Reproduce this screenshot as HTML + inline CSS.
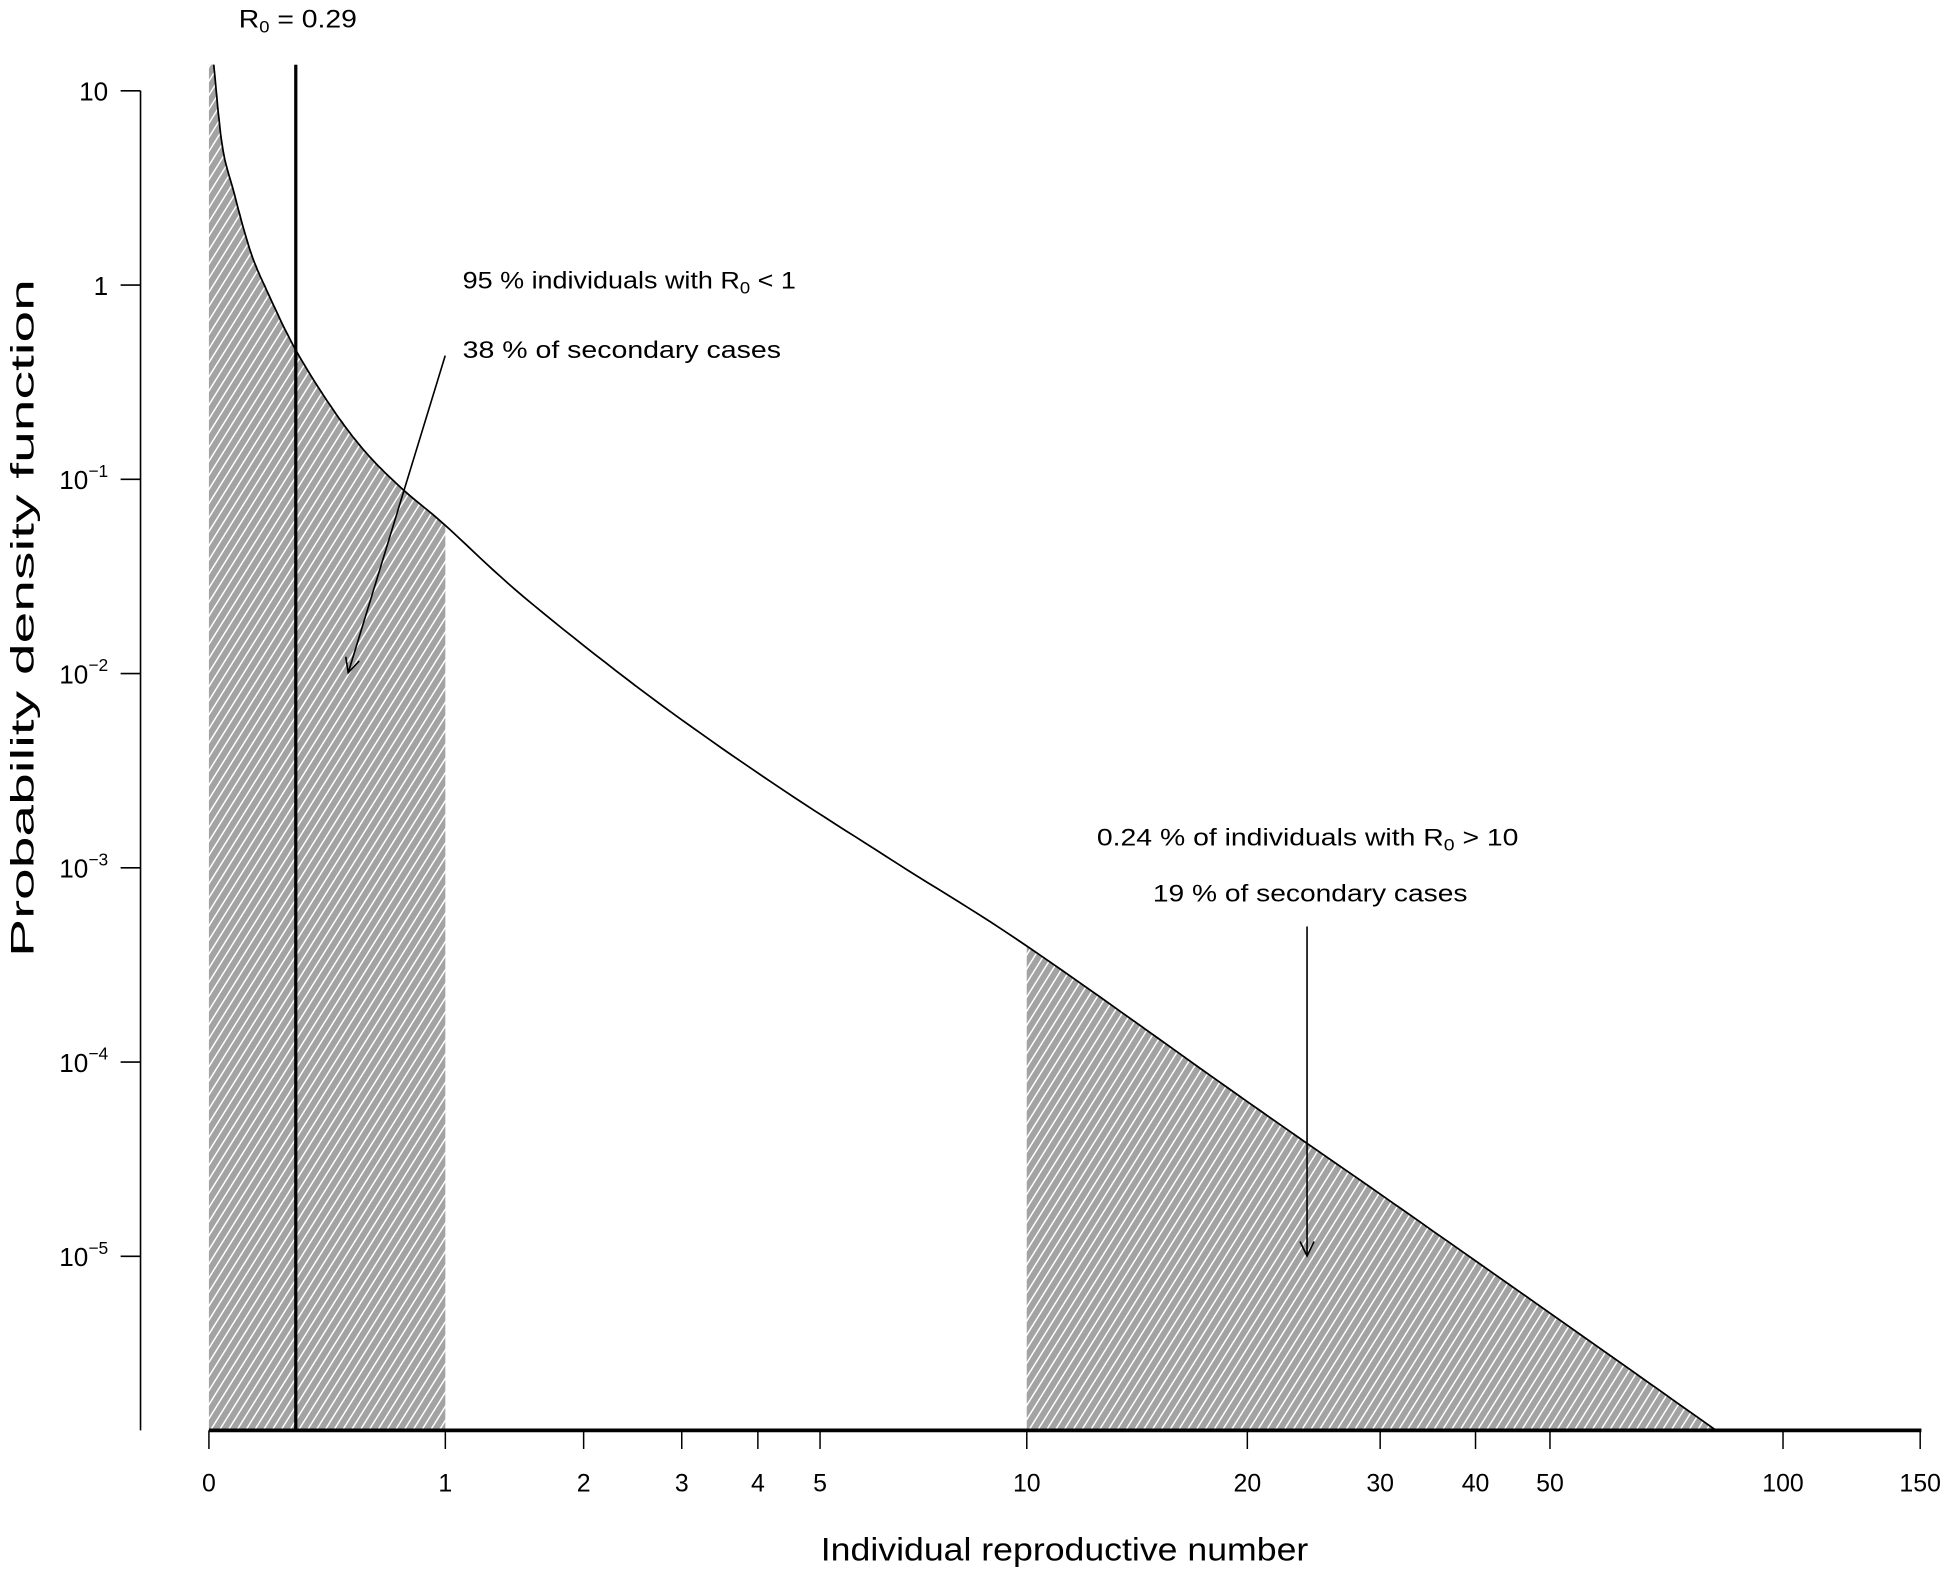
<!DOCTYPE html>
<html><head><meta charset="utf-8"><style>
html,body{margin:0;padding:0;background:#fff;}
svg{display:block;font-family:"Liberation Sans",Arial,sans-serif;}
</style></head><body>
<svg id="chart" width="1950" height="1576" viewBox="0 0 1568 1267.3" preserveAspectRatio="none" xmlns="http://www.w3.org/2000/svg">
<defs>
<pattern id="hatch" patternUnits="userSpaceOnUse" width="6" height="6" patternTransform="rotate(-58)">
<rect width="6" height="6" fill="#a3a3a3"/>
<line x1="0" y1="3" x2="6" y2="3" stroke="#fff" stroke-width="1.2"/>
</pattern>
<clipPath id="plotclip"><rect x="113" y="52" width="1440" height="1100"/></clipPath>
</defs>
<g id="fills" clip-path="url(#plotclip)"></g>
<g id="marks" clip-path="url(#plotclip)"></g>
<g id="axes"></g>
<text x="192" y="22" font-size="20" textLength="95" lengthAdjust="spacingAndGlyphs">R<tspan font-size="13" dy="4">0</tspan><tspan dy="-4"> = 0.29</tspan></text>
<text x="372" y="232" font-size="19" textLength="268" lengthAdjust="spacingAndGlyphs">95 % individuals with R<tspan font-size="13" dy="4">0</tspan><tspan dy="-4"> &lt; 1</tspan></text>
<text x="372" y="288" font-size="19" textLength="256" lengthAdjust="spacingAndGlyphs">38 % of secondary cases</text>
<text x="882" y="680" font-size="19" textLength="339" lengthAdjust="spacingAndGlyphs">0.24 % of individuals with R<tspan font-size="13" dy="4">0</tspan><tspan dy="-4"> &gt; 10</tspan></text>
<text x="927" y="725" font-size="19" textLength="253" lengthAdjust="spacingAndGlyphs">19 % of secondary cases</text>
<text x="856" y="1255" font-size="26" text-anchor="middle" textLength="392" lengthAdjust="spacingAndGlyphs">Individual reproductive number</text>
<text transform="translate(27,497) rotate(-90)" font-size="26" text-anchor="middle" textLength="545" lengthAdjust="spacingAndGlyphs">Probability density function</text>
</svg>
<script>
const curveX = [0.0143, 0.04, 0.0741, 0.128, 0.184, 0.29, 0.44, 0.588, 0.769, 1, 1.52, 2.63, 4.23, 6.53, 10.1, 20, 30, 50, 82];
const curveY = [13.6, 5.2, 3.08, 1.515, 0.943, 0.463, 0.2275, 0.136, 0.0881, 0.0579, 0.0247, 0.0077, 0.00272, 0.00105, 0.000386, 0.0000625, 0.0000209, 0.0000051, 0.00000127];
const xTicks = [0, 1, 2, 3, 4, 5, 10, 20, 30, 40, 50, 100, 150];
const yTickExp = [1, 0, -1, -2, -3, -4, -5];
const r0Value = 0.29;
const lowRange = [0, 1];
const highRange = [10, 82];
const yFloor = 0.00000127;

const NS = "http://www.w3.org/2000/svg";
function sx(v){ return 168 + 631.5*Math.log10(1+v); }
function sy(d){ return 73 + 156.2*(1 - Math.log10(d)); }
function mk(tag, attrs, parent){ const e=document.createElementNS(NS,tag); for(const k in attrs) e.setAttribute(k,attrs[k]); parent.appendChild(e); return e; }

const P = curveX.map((v,i)=>[sx(v), sy(curveY[i])]);
P.unshift([sx(0)+1.2, 20]);
const dense=[];
for(let i=0;i<P.length-1;i++){
  const p0=P[Math.max(i-1,0)], p1=P[i], p2=P[i+1], p3=P[Math.min(i+2,P.length-1)];
  for(let k=0;k<12;k++){
    const t=k/12, t2=t*t, t3=t2*t;
    const f=(a,b,c,d)=>0.5*((2*b)+(-a+c)*t+(2*a-5*b+4*c-d)*t2+(-a+3*b-3*c+d)*t3);
    dense.push([f(p0[0],p1[0],p2[0],p3[0]), f(p0[1],p1[1],p2[1],p3[1])]);
  }
}
dense.push(P[P.length-1]);
function yAtX(X){
  for(let i=1;i<dense.length;i++){
    if(dense[i][0]>=X){ const a=dense[i-1], b=dense[i]; const t=(X-a[0])/((b[0]-a[0])||1); return a[1]+t*(b[1]-a[1]); }
  }
  return dense[dense.length-1][1];
}
const fills=document.getElementById('fills'), marks=document.getElementById('marks'), axes=document.getElementById('axes');
const baseY = sy(yFloor);

function regionPts(lo,hi){
  const X0=sx(lo), X1=sx(hi);
  let pts=[[X0, baseY],[X0, lo===0?20:yAtX(X0)]];
  dense.forEach(p=>{ if(p[0]>X0 && p[0]<X1) pts.push(p); });
  pts.push([X1, yAtX(X1)]);
  pts.push([X1, baseY]);
  return pts.map(p=>p[0].toFixed(1)+','+p[1].toFixed(1)).join(' ');
}
let f1=mk('polygon',{points:regionPts(lowRange[0],lowRange[1]),fill:'url(#hatch)'},fills);


let f2=mk('polygon',{points:regionPts(highRange[0],highRange[1]),fill:'url(#hatch)'},fills);



let d='';
dense.forEach((p,i)=>{ d+=(i?'L':'M')+p[0].toFixed(1)+','+p[1].toFixed(1); });
let cl=mk('path',{d:d,fill:'none',stroke:'#000','stroke-width':1.4},marks);



let r0=mk('line',{x1:sx(r0Value),x2:sx(r0Value),y1:52,y2:baseY,stroke:'#000','stroke-width':2.6},marks);



function arrow(x1,y1,x2,y2,name){
  const g=mk('g',{stroke:'#000','stroke-width':1.3,fill:'none'},marks);
  
  
  mk('line',{x1:x1,y1:y1,x2:x2,y2:y2},g);
  const a=Math.atan2(y2-y1,x2-x1), L=13, s=0.45;
  mk('polyline',{points:(x2-L*Math.cos(a-s))+','+(y2-L*Math.sin(a-s))+' '+x2+','+y2+' '+(x2-L*Math.cos(a+s))+','+(y2-L*Math.sin(a+s))},g);
}
arrow(358,286,280,541,'arrow-low');
arrow(1051,745,1051,1010,'arrow-high');

let ya=mk('line',{x1:113,x2:113,y1:sy(10),y2:baseY,stroke:'#000','stroke-width':1.3},axes);


yTickExp.forEach(e=>{
  const y=sy(Math.pow(10,e));
  let t=mk('line',{x1:97,x2:113,y1:y,y2:y,stroke:'#000','stroke-width':1.3},axes);
  
  
  const tx=mk('text',{x:87,y:y+8,'font-size':21,'text-anchor':'end'},axes);
  
  
  if(e===1) tx.textContent='10';
  else if(e===0) tx.textContent='1';
  else { tx.textContent='10'; const s=document.createElementNS(NS,'tspan'); s.setAttribute('font-size','14'); s.setAttribute('dy','-10'); s.textContent='\u2212'+(-e); tx.appendChild(s); }
});
let xa=mk('line',{x1:168,x2:1545,y1:baseY,y2:baseY,stroke:'#000','stroke-width':3},axes);


xTicks.forEach(v=>{
  const x=sx(v);
  let t=mk('line',{x1:x,x2:x,y1:baseY,y2:baseY+15,stroke:'#000','stroke-width':1.2},axes);
  
  
  const tx=mk('text',{x:x,y:baseY+49,'font-size':20,'text-anchor':'middle'},axes);
  
  
  tx.textContent=String(v);
});
</script>
</body></html>
